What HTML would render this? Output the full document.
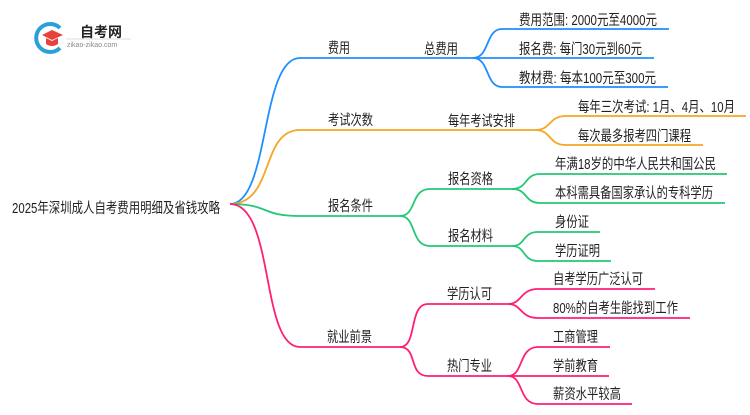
<!DOCTYPE html>
<html><head><meta charset="utf-8"><style>
body{margin:0;width:750px;height:410px;background:#fff;overflow:hidden}
svg text{font-family:"Liberation Sans","Noto Sans CJK SC",sans-serif;fill:#222;font-size:14.5px}
</style></head><body>
<svg width="750" height="410" viewBox="0 0 750 410" fill="none" stroke-width="1.8">
<!-- logo -->
<path d="M60 28 A14 14 0 1 0 60 48" stroke="#2a9fd8" stroke-width="4"/>
<path d="M42 35 L52 30 L63 35 L52 40 Z" fill="#e8423c" stroke="none"/>
<path d="M46 38 L46 44 Q52 48 58 44 L58 38 L52 41 Z" fill="#e8423c" stroke="none"/>
<text x="80" y="37" style="font-size:14px;font-weight:bold">自考网</text>
<line x1="66" y1="39" x2="131" y2="39" stroke="#ddd" stroke-width="1"/>
<text x="67" y="47" style="font-size:7px;fill:#888">zikao-zikao.com</text>

<text x="12" y="213" textLength="208" lengthAdjust="spacingAndGlyphs">2025年深圳成人自考费用明细及省钱攻略</text>

<!-- blue -->
<g stroke="#1E8FFF">
<path d="M230 204 C270 204 260 58 300 58 L473 58"/>
<path d="M473 58 C490 58 485 29 502 29 L669 29"/>
<path d="M473 58 L654 58"/>
<path d="M473 58 C490 58 485 87 502 87 L668 87"/>
</g>
<!-- orange -->
<g stroke="#F5A623">
<path d="M230 204 C275 204 260 130 300 130 L535 130"/>
<path d="M535 130 C552 130 548 116 566 116 L746 116"/>
<path d="M535 130 C552 130 548 145 566 145 L703 145"/>
</g>
<!-- green -->
<g stroke="#24C875">
<path d="M230 204 C270 204 260 216 300 216 L400 216"/>
<path d="M400 216 C417 216 410 189 430 189 L512 189"/>
<path d="M400 216 C417 216 410 246 430 246 L512 246"/>
<path d="M512 189 C528 189 524 174 540 174 L727 174"/>
<path d="M512 189 C528 189 524 203 540 203 L725 203"/>
<path d="M512 246 C526 246 522 232 538 232 L600 232"/>
<path d="M512 246 C526 246 522 261 538 261 L611 261"/>
</g>
<!-- pink -->
<g stroke="#FF1F75">
<path d="M230 204 C275 204 260 347 300 347 L400 347"/>
<path d="M400 347 C418 347 408 304 428 304 L508 304"/>
<path d="M400 347 C418 347 408 376 428 376 L508 376"/>
<path d="M508 304 C522 304 520 289 538 289 L655 289"/>
<path d="M508 304 C522 304 520 318 538 318 L690 318"/>
<path d="M508 376 C524 376 518 347 538 347 L610 347"/>
<path d="M508 376 L609 376"/>
<path d="M508 376 C524 376 518 404 538 404 L632 404"/>
</g>

<text x="328" y="53" textLength="22" lengthAdjust="spacingAndGlyphs">费用</text>
<text x="424" y="54" textLength="34" lengthAdjust="spacingAndGlyphs">总费用</text>
<text x="519" y="25" textLength="138" lengthAdjust="spacingAndGlyphs">费用范围: 2000元至4000元</text>
<text x="519" y="54" textLength="123" lengthAdjust="spacingAndGlyphs">报名费: 每门30元到60元</text>
<text x="519" y="83" textLength="137" lengthAdjust="spacingAndGlyphs">教材费: 每本100元至300元</text>

<text x="328" y="125" textLength="45" lengthAdjust="spacingAndGlyphs">考试次数</text>
<text x="448" y="126" textLength="67" lengthAdjust="spacingAndGlyphs">每年考试安排</text>
<text x="578" y="112" textLength="157" lengthAdjust="spacingAndGlyphs">每年三次考试: 1月、4月、10月</text>
<text x="578" y="141" textLength="113" lengthAdjust="spacingAndGlyphs">每次最多报考四门课程</text>

<text x="328" y="211" textLength="45" lengthAdjust="spacingAndGlyphs">报名条件</text>
<text x="448" y="184" textLength="45" lengthAdjust="spacingAndGlyphs">报名资格</text>
<text x="555" y="169" textLength="161" lengthAdjust="spacingAndGlyphs">年满18岁的中华人民共和国公民</text>
<text x="555" y="198" textLength="158" lengthAdjust="spacingAndGlyphs">本科需具备国家承认的专科学历</text>
<text x="448" y="241" textLength="45" lengthAdjust="spacingAndGlyphs">报名材料</text>
<text x="555" y="227" textLength="34" lengthAdjust="spacingAndGlyphs">身份证</text>
<text x="555" y="256" textLength="45" lengthAdjust="spacingAndGlyphs">学历证明</text>

<text x="327" y="342" textLength="45" lengthAdjust="spacingAndGlyphs">就业前景</text>
<text x="447" y="299" textLength="45" lengthAdjust="spacingAndGlyphs">学历认可</text>
<text x="553" y="284" textLength="90" lengthAdjust="spacingAndGlyphs">自考学历广泛认可</text>
<text x="553" y="313" textLength="125" lengthAdjust="spacingAndGlyphs">80%的自考生能找到工作</text>
<text x="447" y="371" textLength="45" lengthAdjust="spacingAndGlyphs">热门专业</text>
<text x="553" y="342" textLength="45" lengthAdjust="spacingAndGlyphs">工商管理</text>
<text x="553" y="371" textLength="45" lengthAdjust="spacingAndGlyphs">学前教育</text>
<text x="553" y="399" textLength="68" lengthAdjust="spacingAndGlyphs">薪资水平较高</text>
</svg>
</body></html>
